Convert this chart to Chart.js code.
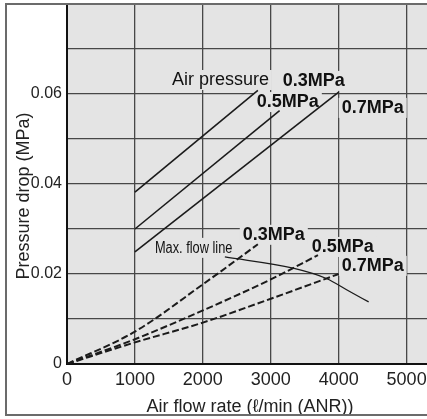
<!DOCTYPE html>
<html lang="en">
<head>
  <meta charset="UTF-8">
  <title>Pressure drop vs air flow rate</title>
  <script src="https://cdn.jsdelivr.net/npm/chart.js@4.4.0/dist/chart.umd.min.js"></script>
  <style>
    html, body { margin: 0; padding: 0; background: #fff; }
    canvas { display: block; }
  </style>
</head>
<body>
  <canvas id="chart" width="427" height="419"></canvas>

  <script>
    // Air flow rate (l/min ANR) -> pressure drop (MPa)
    // solid lines
    const flow03 = [1000, 2810];
    const drop03 = [0.0382, 0.0608];
    const flow05 = [1000, 3130];
    const drop05 = [0.0300, 0.0563];
    const flow07 = [1000, 4000];
    const drop07 = [0.0249, 0.0604];

    // dashed lines, starting at zero flow
    const flowDash03 = [0, 1000, 2000, 2810];
    const dropDash03 = [0, 0.0072, 0.0177, 0.0266];
    const flowDash05 = [0, 1000, 2000, 3000, 3695];
    const dropDash05 = [0, 0.0055, 0.0119, 0.0188, 0.0242];
    const flowDash07 = [0, 1000, 2000, 3000, 4000];
    const dropDash07 = [0, 0.0048, 0.0092, 0.0145, 0.0200];

    // max. flow line
    const flowMax = [2324, 3328, 3819, 4162, 4441];
    const dropMax = [0.0238, 0.0213, 0.0190, 0.0161, 0.0138];

    // axis ticks
    const xTicks = [0, 1000, 2000, 3000, 4000, 5000];
    const yTicks = [0, 0.02, 0.04, 0.06];

    const LINE = "#1b1b1b";
    const FONT = '"Liberation Sans", Arial, sans-serif';

    const toXY = (xs, ys) => xs.map((x, i) => ({ x: x, y: ys[i] }));

    // texts on the plot, placed in data units (left edge, baseline)
    const notes = [
      { text: "Air pressure", x: 1544, y: 0.0620 },
      { text: "0.3MPa", x: 3176, y: 0.0618, bold: true },
      { text: "0.5MPa", x: 2794, y: 0.0571, bold: true },
      { text: "0.7MPa", x: 4044, y: 0.0558, bold: true },
      { text: "0.3MPa", x: 2588, y: 0.0276, bold: true },
      { text: "0.5MPa", x: 3603, y: 0.0249, bold: true },
      { text: "0.7MPa", x: 4044, y: 0.0207, bold: true },
      { text: "Max. flow line", x: 1294, y: 0.0247, squeeze: 0.8 }
    ];

    function noteFont(n) {
      if (n.bold) return "bold 18px " + FONT;
      if (n.squeeze) return "16px " + FONT;
      return "18px " + FONT;
    }

    // background, label boxes, titles and outer frame
    const decor = {
      id: "decor",
      beforeDraw(chart) {
        const { ctx, chartArea: a } = chart;
        ctx.save();
        ctx.fillStyle = "#fff";
        ctx.fillRect(0, 0, chart.width, chart.height);
        ctx.fillStyle = "#e4e4e4";
        ctx.fillRect(a.left, a.top, a.right - a.left, a.bottom - a.top);
        ctx.restore();
      },
      beforeDatasetsDraw(chart) {
        // hide the grid behind the labels
        const { ctx, scales } = chart;
        ctx.save();
        ctx.fillStyle = "#e4e4e4";
        notes.forEach(n => {
          ctx.font = noteFont(n);
          const w = ctx.measureText(n.text).width * (n.squeeze || 1);
          const px = scales.x.getPixelForValue(n.x);
          const py = scales.y.getPixelForValue(n.y);
          ctx.fillRect(px - 3, py - 15, w + 6, 20);
        });
        ctx.restore();
      },
      afterDraw(chart) {
        const { ctx, scales } = chart;
        ctx.save();
        ctx.fillStyle = "#111";
        ctx.textBaseline = "alphabetic";
        ctx.textAlign = "left";
        notes.forEach(n => {
          ctx.save();
          ctx.font = noteFont(n);
          ctx.translate(scales.x.getPixelForValue(n.x), scales.y.getPixelForValue(n.y));
          ctx.scale(n.squeeze || 1, 1);
          ctx.fillText(n.text, 0, 0);
          ctx.restore();
        });

        // axis titles
        ctx.fillStyle = "#222";
        ctx.font = "18px " + FONT;
        ctx.textAlign = "center";
        ctx.fillText("Air flow rate (\u2113/min (ANR))", 250, 412);
        ctx.translate(29, 196);
        ctx.rotate(-Math.PI / 2);
        ctx.fillText("Pressure drop (MPa)", 0, 0);
        ctx.restore();

        // outer frame
        ctx.save();
        ctx.strokeStyle = "#6b6b6b";
        ctx.lineWidth = 2;
        ctx.strokeRect(6, 4, 440, 411);
        ctx.restore();
      }
    };

    const solid = (xs, ys) => ({
      data: toXY(xs, ys),
      showLine: true,
      borderColor: LINE,
      borderWidth: 1.6,
      pointRadius: 0
    });
    const dashed = (xs, ys) => ({
      data: toXY(xs, ys),
      showLine: true,
      borderColor: LINE,
      borderWidth: 2,
      borderDash: [7, 3],
      pointRadius: 0,
      cubicInterpolationMode: "monotone"
    });

    const ctx = document.getElementById("chart").getContext("2d");
    new Chart(ctx, {
      type: "scatter",
      data: {
        datasets: [
          solid(flow03, drop03),
          solid(flow05, drop05),
          solid(flow07, drop07),
          dashed(flowDash03, dropDash03),
          dashed(flowDash05, dropDash05),
          dashed(flowDash07, dropDash07),
          Object.assign(solid(flowMax, dropMax), { borderWidth: 1.3, cubicInterpolationMode: "monotone" })
        ]
      },
      options: {
        responsive: false,
        animation: false,
        devicePixelRatio: 1,
        layout: { padding: { top: 4, left: 0, right: 0, bottom: 0 } },
        plugins: {
          legend: { display: false },
          tooltip: { enabled: false }
        },
        scales: {
          x: {
            type: "linear",
            min: 0,
            max: 5300,
            ticks: {
              stepSize: 1000,
              color: "#222",
              font: { family: FONT, size: 18 },
              padding: 5,
              maxRotation: 0,
              callback: v => String(v)
            },
            afterBuildTicks: s => { s.ticks = xTicks.map(v => ({ value: v })); },
            afterFit: s => { s.height = 55; s.paddingLeft = 0; s.paddingRight = 0; },
            grid: { color: "#474747", lineWidth: 1.3, drawTicks: false },
            border: { color: "#111", width: 2 }
          },
          y: {
            min: 0,
            max: 0.08,
            ticks: {
              stepSize: 0.01,
              color: "#222",
              font: { family: FONT, size: 16 },
              padding: 5,
              callback: v => {
                const hit = yTicks.find(t => Math.abs(t - v) < 1e-6);
                if (hit === undefined) return "";
                return hit === 0 ? "0" : hit.toFixed(2);
              }
            },
            afterFit: s => { s.width = 67; s.paddingTop = 0; s.paddingBottom = 0; },
            grid: { color: "#474747", lineWidth: 1.3, drawTicks: false },
            border: { color: "#111", width: 2 }
          }
        }
      },
      plugins: [decor]
    });
  </script>
</body>
</html>
